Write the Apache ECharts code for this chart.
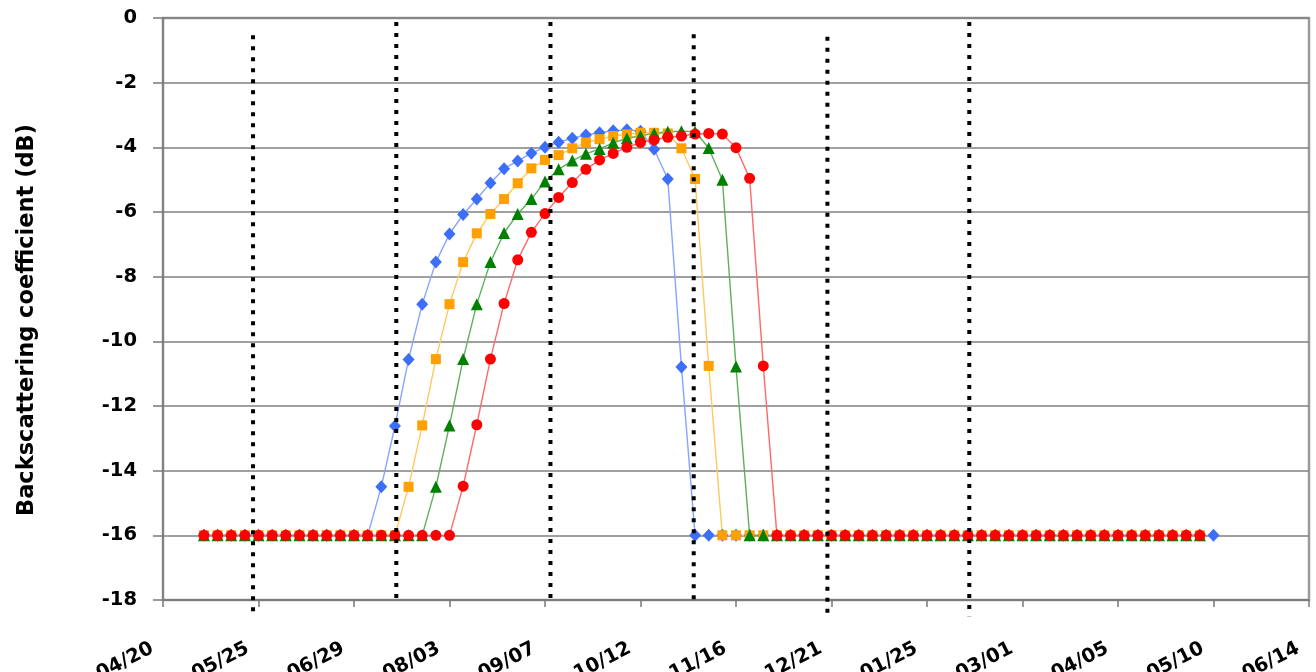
<!DOCTYPE html>
<html>
<head>
<meta charset="utf-8">
<script src="https://cdn.jsdelivr.net/npm/echarts@6/dist/echarts.min.js"></script>
<style>
html,body{margin:0;padding:0;background:#fff;}
#chart{width:1316px;height:672px;}
</style>
</head>
<body>
<div id="chart"></div>
<script>
// ---- data ----
// x-axis: day offset from the first tick (04/20); ticks every 35 days
const xTickLabels = ['04/20','05/25','06/29','08/03','09/07','10/12','11/16','12/21','01/25','03/01','04/05','05/10','06/14'];
const xTickStepDays = 35;
// samples every 5 days, starting 15 days after 04/20
const sampleStartDay = 15;
const sampleStepDays = 5;

const seriesBlue = [
  -16,-16,-16,-16,-16,-16,-16,-16,-16,-16,-16,-16,-16,
  -14.5,-12.62,-10.56,-8.85,-7.55,-6.68,-6.08,-5.6,-5.1,-4.66,-4.42,-4.18,-4.0,-3.84,-3.72,-3.62,-3.55,-3.49,-3.46,-3.5,-4.06,-4.98,-10.79,
  -16,-16,-16,-16,-16,-16,-16,-16,-16,-16,-16,-16,-16,-16,-16,-16,-16,-16,-16,-16,
  -16,-16,-16,-16,-16,-16,-16,-16,-16,-16,-16,-16,-16,-16,-16,-16,-16,-16,-16
];
const seriesOrange = [
  -16,-16,-16,-16,-16,-16,-16,-16,-16,-16,-16,-16,-16,-16,-16,
  -14.5,-12.6,-10.55,-8.85,-7.55,-6.66,-6.06,-5.6,-5.11,-4.65,-4.39,-4.24,-4.03,-3.85,-3.75,-3.65,-3.6,-3.55,-3.55,-3.57,-4.03,-4.98,-10.76,
  -16,-16,-16,-16,-16,-16,-16,-16,-16,-16,-16,-16,-16,-16,-16,-16,-16,-16,
  -16,-16,-16,-16,-16,-16,-16,-16,-16,-16,-16,-16,-16,-16,-16,-16,-16,-16
];
const seriesGreen = [
  -16,-16,-16,-16,-16,-16,-16,-16,-16,-16,-16,-16,-16,-16,-16,-16,-16,
  -14.5,-12.6,-10.55,-8.85,-7.55,-6.65,-6.06,-5.6,-5.06,-4.68,-4.41,-4.2,-4.05,-3.86,-3.72,-3.64,-3.57,-3.52,-3.5,-3.52,-4.02,-5.0,-10.78,
  -16,-16,-16,-16,-16,-16,-16,-16,-16,-16,-16,-16,-16,-16,-16,-16,-16,
  -16,-16,-16,-16,-16,-16,-16,-16,-16,-16,-16,-16,-16,-16,-16,-16,-16
];
const seriesRed = [
  -16,-16,-16,-16,-16,-16,-16,-16,-16,-16,-16,-16,-16,-16,-16,-16,-16,-16,-16,
  -14.48,-12.58,-10.55,-8.83,-7.48,-6.63,-6.05,-5.55,-5.09,-4.68,-4.39,-4.19,-4.0,-3.85,-3.77,-3.69,-3.65,-3.59,-3.57,-3.59,-4.01,-4.96,-10.76,
  -16,-16,-16,-16,-16,-16,-16,-16,-16,-16,-16,-16,-16,-16,-16,-16,
  -16,-16,-16,-16,-16,-16,-16,-16,-16,-16,-16,-16,-16,-16,-16,-16
];

// vertical dotted marker lines: day offset, top value, bottom value
const dottedDays   = [33, 85.5, 142, 194.5, 243.5, 295.5];
const dottedTop    = [-0.53, -0.12, -0.12, -0.5, -0.58, -0.12];
const dottedBottom = [-18.5, -18.1, -18.1, -18.1, -18.5, -18.5];

const yTitle = 'Backscattering coefficient (dB)';

// ---- chart ----
function toPairs(arr){
  return arr.map((v,i)=>[sampleStartDay + i*sampleStepDays, v]);
}
const FONT = 'DejaVu Sans';

const mkSeries = (data, symbol, size, markerColor, lineColor) => ({
  type:'line', data: toPairs(data), symbol: symbol, symbolSize: size,
  showAllSymbol: true, clip: false,
  itemStyle:{color: markerColor, borderWidth:0},
  lineStyle:{color: lineColor, width:1.4},
  emphasis:{disabled:true}, z:3
});

const series = [
  mkSeries(seriesBlue, 'diamond', [12,13], '#3d6ef7', '#86a4ff'),
  mkSeries(seriesOrange, 'rect', 10, '#ffa000', '#ffc860'),
  mkSeries(seriesGreen, 'triangle', 12, '#008000', '#5eb05e'),
  mkSeries(seriesRed, 'circle', 11, '#ff0000', '#ff6a6a')
];
dottedDays.forEach((d,i)=>{
  series.push({
    type:'line', data:[[d, dottedTop[i]],[d, dottedBottom[i]]],
    symbol:'none', clip:false, silent:true, z:10,
    lineStyle:{color:'#000', width:4, type:[4,7], cap:'butt'}
  });
});

const chart = echarts.init(document.getElementById('chart'), null, {renderer:'canvas'});
chart.setOption({
  animation:false,
  backgroundColor:'#fff',
  grid:{left:163, right:7, top:18, bottom:72, containLabel:false, outerBoundsMode:'none',
        show:true, borderColor:'#9a9a9a', borderWidth:2.5, backgroundColor:'transparent'},
  xAxis:{
    type:'value', min:0, max:xTickStepDays*(xTickLabels.length-1), interval:xTickStepDays,
    axisLine:{show:true, onZero:false, lineStyle:{color:'#7a7a7a', width:1.5}},
    axisTick:{show:true, length:7, lineStyle:{color:'#7a7a7a', width:1.5}},
    splitLine:{show:false},
    axisLabel:{
      rotate:27, margin:42, padding:[0,12,0,0], hideOverlap:false,
      color:'#000', fontFamily:FONT, fontWeight:'bold', fontSize:19.5,
      formatter:(v)=>xTickLabels[Math.round(v/xTickStepDays)] || ''
    }
  },
  yAxis:{
    type:'value', min:-18, max:0, interval:2,
    name:yTitle, nameLocation:'middle', nameGap:124,
    nameTextStyle:{color:'#000', fontFamily:FONT, fontWeight:'bold', fontSize:22.5, padding:[0,22,0,0]},
    axisLine:{show:true, lineStyle:{color:'#7a7a7a', width:1.5}},
    axisTick:{show:true, length:10, lineStyle:{color:'#7a7a7a', width:1.5}},
    splitLine:{show:true, lineStyle:{color:'#808080', width:1.6}},
    axisLabel:{color:'#000', fontFamily:FONT, fontWeight:'bold', fontSize:19.5, margin:26}
  },
  series: series
});
</script>
</body>
</html>
